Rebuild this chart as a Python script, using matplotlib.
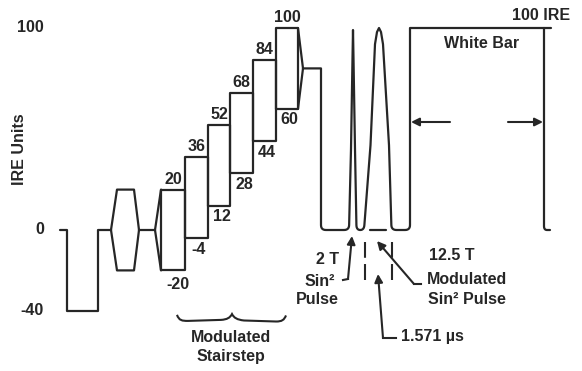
import numpy as np
import matplotlib.pyplot as plt
from matplotlib.path import Path
from matplotlib.patches import PathPatch

plt.rcParams['font.family'] = ['Liberation Sans', 'DejaVu Sans']
plt.rcParams['font.weight'] = 'bold'
plt.rcParams['lines.scale_dashes'] = False

INK = '#262626'
PX = 2.02    # pixels per IRE unit (used for rounding and label placement)
ZERO_ROW = 230

# --- waveform data (time in drawing units, level in IRE) ---
level_ticks = [100, 0, -40]

sync_t = [60, 67, 67, 98, 98, 111]
sync_v = [0, 0, -40, -40, 0, 0]

chroma_t = [111, 117, 134, 139]
chroma_env = [0, 20, 20, 0]
gap_t = [139, 155]

stair_in = 155
step_edges = [161, 185, 208, 230, 253, 276, 298]
step_lo = [-20, -4, 12, 28, 44, 60]
step_hi = [20, 36, 52, 68, 84, 100]
stair_out = 303
stair_end_level = 80
luma_end = 321

pulse2t_t = [349, 351, 352.5, 353, 353.5, 355, 356.5]
pulse2t_v = [0, 40, 85, 99, 85, 40, 0]
pulse12t_t = [364, 370.5, 375, 377, 379, 381, 383, 389, 391.5]
pulse12t_v = [0, 42, 92, 98, 100, 98, 92, 42, 0]
pulse12t_floor = [370, 386]

white_t = [410, 544]
white_level = 100
white_end = 551


def ire(row):
    return (ZERO_ROW - row) / PX


def rounded(xs, ys, r=5.0, n=8):
    # round the corners sitting on blanking level
    ox, oy = [xs[0]], [ys[0]]
    for i in range(1, len(xs) - 1):
        if ys[i] != 0:
            ox.append(xs[i]); oy.append(ys[i])
            continue
        p0 = np.array([xs[i-1], ys[i-1] * PX])
        p1 = np.array([xs[i], ys[i] * PX])
        p2 = np.array([xs[i+1], ys[i+1] * PX])
        d0 = p0 - p1
        d2 = p2 - p1
        l0 = np.hypot(*d0)
        l2 = np.hypot(*d2)
        a = p1 + d0 / l0 * min(r, l0 / 2)
        b = p1 + d2 / l2 * min(r, l2 / 2)
        t = np.linspace(0, 1, n)[:, None]
        pts = (1 - t) ** 2 * a + 2 * (1 - t) * t * p1 + t ** 2 * b
        ox.extend(pts[:, 0]); oy.extend(pts[:, 1] / PX)
    ox.append(xs[-1]); oy.append(ys[-1])
    return ox, oy


fig = plt.figure(figsize=(5.82, 3.71), dpi=100)
ax = fig.add_axes([0, 0, 1, 1])
ax.set_xlim(0, 582)
ax.set_ylim(ire(371), ire(0))
ax.axis('off')

lw = 1.6
kw = dict(color=INK, lw=lw, solid_joinstyle='round', solid_capstyle='round')

# sync + back porch
ax.plot(sync_t, sync_v, **kw)
# first chroma packet
ax.plot(chroma_t, chroma_env, **kw)
ax.plot(chroma_t, [-v for v in chroma_env], **kw)
ax.plot(gap_t, [0, 0], **kw)
# modulated stairstep
ax.plot([stair_in, step_edges[0]], [0, step_hi[0]], **kw)
ax.plot([stair_in, step_edges[0]], [0, step_lo[0]], **kw)
for i in range(len(step_lo)):
    x0, x1 = step_edges[i], step_edges[i+1]
    ax.plot([x0, x0, x1, x1, x0], [step_lo[i], step_hi[i], step_hi[i], step_lo[i], step_lo[i]], **kw)
ax.plot([step_edges[-1], stair_out], [step_hi[-1], stair_end_level], **kw)
ax.plot([step_edges[-1], stair_out], [step_lo[-1], stair_end_level], **kw)

# luminance end, pulses and white bar
pb_t = [stair_out, luma_end, luma_end] + pulse2t_t + pulse12t_t + [white_t[0], white_t[0], white_end]
pb_v = [stair_end_level, stair_end_level, 0] + pulse2t_v + pulse12t_v + [0, white_level, white_level]
rx, ry = rounded(pb_t, pb_v)
ax.plot(rx, ry, **kw)
rx, ry = rounded([white_t[1], white_t[1], white_t[1] + 6], [white_level, 0, 0], r=4)
ax.plot(rx, ry, **kw)
ax.plot(pulse12t_floor, [0, 0], **kw)

# dashed markers for 1.571 us
ax.vlines([365, 392], ire(280), ire(242), colors=INK, lw=1.5, linestyles=(0, (11.5, 4.5)))

# labels
fs = 11.5
tk = dict(color=INK, fontsize=fs, fontweight='bold')
for v in level_ticks:
    ax.text(44, v, str(v), ha='right', va='center', **tk)
ax.text(20, 40, 'IRE Units', rotation=90, ha='center', va='center', **tk)

for i in range(len(step_lo)):
    c = (step_edges[i] + step_edges[i+1]) / 2
    ax.text(c, step_hi[i] + 5.2, str(step_hi[i]), ha='center', va='center', **tk)
    dx = 5 if i == 0 else 2.5
    dy = 7 if i == 0 else 5.5
    ax.text(c + dx, step_lo[i] - dy, str(step_lo[i]), ha='center', va='center', **tk)

ax.text(231, ire(337), 'Modulated', ha='center', va='center', **tk)
ax.text(231, ire(357), 'Stairstep', ha='center', va='center', **tk)

# brace under stairstep
brace = [
    (177, -42.0), (179, -44.8), (182, -45.0), (188, -45.0),
    (221, -44.5),
    (227, -44.3), (230, -43.5), (232, -41.6),
    (234, -43.5), (237, -44.4), (244, -44.8),
    (276, -45.3),
    (282, -45.3), (284, -44.6), (286, -42.3),
]
codes = [Path.MOVETO, Path.CURVE4, Path.CURVE4, Path.CURVE4, Path.LINETO,
         Path.CURVE4, Path.CURVE4, Path.CURVE4, Path.CURVE4, Path.CURVE4, Path.CURVE4,
         Path.LINETO, Path.CURVE4, Path.CURVE4, Path.CURVE4]
ax.add_patch(PathPatch(Path(brace, codes), fill=False, edgecolor=INK, lw=1.5))

ax.text(327, ire(260), '2 T', ha='center', va='center', **tk)
ax.text(320, ire(282), 'Sin²', ha='center', va='center', **tk)
ax.text(317, ire(300), 'Pulse', ha='center', va='center', **tk)
ax.text(452, ire(255), '12.5 T', ha='center', va='center', **tk)
ax.text(467, ire(279), 'Modulated', ha='center', va='center', **tk)
ax.text(467, ire(300), 'Sin² Pulse', ha='center', va='center', **tk)
ax.text(432, ire(337), '1.571 µs', ha='center', va='center', **tk)
ax.text(541, ire(15), '100 IRE', ha='center', va='center', **tk)
ax.text(482, ire(43), 'White Bar', ha='center', va='center', **tk)

# arrows
ap = dict(arrowstyle='-|>', mutation_scale=12, lw=1.5, color=INK, shrinkA=0, shrinkB=0)
ax.plot([343, 348], [ire(280), ire(279)], color=INK, lw=1.5)
ax.annotate('', xy=(352, ire(236)), xytext=(348, ire(279)), arrowprops=ap)
ax.plot([421, 414], [ire(284), ire(284)], color=INK, lw=1.5)
ax.annotate('', xy=(377, ire(241)), xytext=(414, ire(284)), arrowprops=ap)
ax.plot([396, 383], [ire(338), ire(338)], color=INK, lw=1.5)
ax.annotate('', xy=(378, ire(274)), xytext=(383, ire(338)), arrowprops=ap)
ax.annotate('', xy=(411, ire(122)), xytext=(450, ire(122)), arrowprops=ap)
ax.annotate('', xy=(543, ire(122)), xytext=(508, ire(122)), arrowprops=ap)

fig.savefig('out.png', dpi=100, facecolor='white')
